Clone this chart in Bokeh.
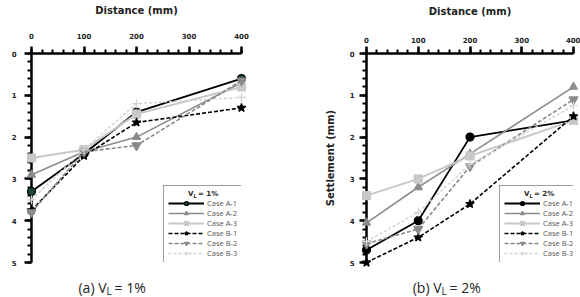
from bokeh.plotting import figure
from bokeh.models import (Range1d, FixedTicker, Legend, LegendItem)
from bokeh.core.properties import value
from bokeh.layouts import row
from bokeh.embed import file_html
from bokeh.resources import INLINE

# Distance from the tunnel axis (mm)
distance = [0, 100, 200, 400]

# Surface settlement (mm), volume loss 1 %
vl1_a1 = [3.3, 2.4, 1.4, 0.6]
vl1_a2 = [2.9, 2.35, 2.0, 0.7]
vl1_a3 = [2.5, 2.3, 1.45, 0.8]
vl1_b1 = [3.75, 2.45, 1.65, 1.3]
vl1_b2 = [3.8, 2.35, 2.2, 0.65]
vl1_b3 = [3.5, 2.3, 1.2, 1.05]

# Surface settlement (mm), volume loss 2 %
vl2_a1 = [4.7, 4.0, 2.0, 1.6]
vl2_a2 = [4.05, 3.2, 2.4, 0.8]
vl2_a3 = [3.4, 3.0, 2.45, 1.6]
vl2_b1 = [5.0, 4.4, 3.6, 1.5]
vl2_b2 = [4.55, 4.2, 2.7, 1.1]
vl2_b3 = [4.5, 3.8, 2.65, 1.25]

case_names = ["Case A-1", "Case A-2", "Case A-3", "Case B-1", "Case B-2", "Case B-3"]

x_major = [0, 100, 200, 300, 400]
x_minor = list(range(0, 401, 20))
y_major = [0, 1, 2, 3, 4, 5]
y_minor = [i / 5 for i in range(0, 26)]

TICK_FONT = "DejaVu Sans"


def styles(a1_fill):
    return [
        dict(line_color="black", line_width=1.8, line_dash="solid",
             marker="circle", size=8, fill=a1_fill, mline="black"),
        dict(line_color="#8c8c8c", line_width=1.6, line_dash="solid",
             marker="triangle", size=8, fill="#8c8c8c", mline="#8c8c8c"),
        dict(line_color="#c8c8c8", line_width=2.0, line_dash="solid",
             marker="square", size=8, fill="#c8c8c8", mline="#c8c8c8"),
        dict(line_color="black", line_width=1.6, line_dash="4 2",
             marker="star", size=9, fill="black", mline="black"),
        dict(line_color="#8a8a8a", line_width=1.6, line_dash="4 2",
             marker="inverted_triangle", size=9, fill="#8a8a8a", mline="#8a8a8a"),
        dict(line_color="#d2d2d2", line_width=1.4, line_dash="3 2",
             marker="cross", size=9, fill="#d2d2d2", mline="#d2d2d2"),
    ]


def add_text(p, dx, dy, text, font, size, align, style="normal"):
    # text placed by pixel offset from the lower-left corner of the plot frame
    p.text(x=[0], y=[5], text=[text], x_offset=dx, y_offset=dy,
           text_font=value(font), text_font_style=style, text_font_size=size,
           text_color="#262626", text_align=align, text_baseline="middle",
           level="overlay")


def make_panel(series, a1_fill, border_left, border_right, xl_standoff, xt_standoff,
               yl_text, yl_standoff, yt_standoff, tag, pct, cap_x, leg_loc):
    p = figure(width=290, height=297, x_range=Range1d(0, 400), y_range=Range1d(5, 0),
               x_axis_location="above", output_backend="svg", toolbar_location=None,
               min_border_left=border_left, min_border_right=border_right,
               min_border_top=53, min_border_bottom=35)
    p.outline_line_color = None
    p.grid.visible = False
    p.background_fill_color = "white"
    p.border_fill_color = "white"

    p.xaxis.ticker = FixedTicker(ticks=x_major, minor_ticks=x_minor)
    p.yaxis.ticker = FixedTicker(ticks=y_major, minor_ticks=y_minor)
    for ax in (p.xaxis[0], p.yaxis[0]):
        ax.axis_line_color = "black"
        ax.axis_line_width = 2.5
        ax.major_tick_line_color = "black"
        ax.major_tick_line_width = 2.5
        ax.minor_tick_line_color = "black"
        ax.minor_tick_line_width = 2
        ax.major_tick_in = 0
        ax.major_tick_out = 7
        ax.minor_tick_in = 0
        ax.minor_tick_out = 4
        ax.major_label_text_font = TICK_FONT
        ax.major_label_text_font_style = "bold"
        ax.major_label_text_font_size = "7px"
        ax.major_label_text_color = "#222222"
        ax.axis_label_text_font = TICK_FONT
        ax.axis_label_text_font_style = "bold"
        ax.axis_label_text_font_size = "10px"
        ax.axis_label_text_color = "#222222"
    p.xaxis.axis_label = "Distance (mm)"
    p.xaxis.major_label_standoff = xt_standoff
    p.xaxis.axis_label_standoff = xl_standoff
    p.yaxis.major_label_standoff = yt_standoff
    if yl_text:
        p.yaxis.axis_label = yl_text
        p.yaxis.axis_label_standoff = yl_standoff

    items = []
    for name, ys, st in zip(case_names, series, styles(a1_fill)):
        rl = p.line(distance, ys, line_color=st["line_color"], line_width=st["line_width"],
                    line_dash=st["line_dash"], level="overlay")
        rs = p.scatter(distance, ys, marker=st["marker"], size=st["size"],
                       fill_color=st["fill"], line_color=st["mline"], line_width=1.2,
                       level="overlay")
        items.append(LegendItem(label=name, renderers=[rl, rs]))

    leg = Legend(items=items, location=leg_loc, title="\u00a0",
                 title_text_font_size="7px", title_standoff=1,
                 label_text_font="Open Sans", label_text_font_size="7.5px",
                 label_text_color="#555555", glyph_width=36, glyph_height=10,
                 label_height=10, label_standoff=3, spacing=0, padding=4, margin=0,
                 border_line_color="#3a3a3a", border_line_width=1.5,
                 background_fill_alpha=0.0)
    p.add_layout(leg)

    # legend heading V_L = n %
    hx, hy = leg_loc[0] + 30, -(leg_loc[1] + 70)
    add_text(p, hx, hy, "V", TICK_FONT, "7px", "right", "bold")
    add_text(p, hx, hy + 2, "L", TICK_FONT, "5px", "left", "bold")
    add_text(p, hx + 4.5, hy, "= " + pct, TICK_FONT, "7px", "left", "bold")

    # panel caption (x) V_L = n %
    cy = 25
    add_text(p, cap_x, cy, tag + " V", "Open Sans", "14px", "right")
    add_text(p, cap_x, cy + 3, "L", "Open Sans", "10px", "left")
    add_text(p, cap_x + 8, cy, "= " + pct, "Open Sans", "14px", "left")
    return p


pa = make_panel([vl1_a1, vl1_a2, vl1_a3, vl1_b1, vl1_b2, vl1_b3], "#1d4a3c",
                31, 49, 14, 8, None, 0, 8, "(a)", "1%", 75, (132, -1))
pb = make_panel([vl2_a1, vl2_a2, vl2_a3, vl2_b1, vl2_b2, vl2_b3], "black",
                76, 7, 17, 4, "Settlement (mm)", 11, 5, "(b)", "2%", 75, (133, -1))

layout = row(pa, pb, spacing=0)
open("out.html", "w").write(file_html(layout, INLINE))
